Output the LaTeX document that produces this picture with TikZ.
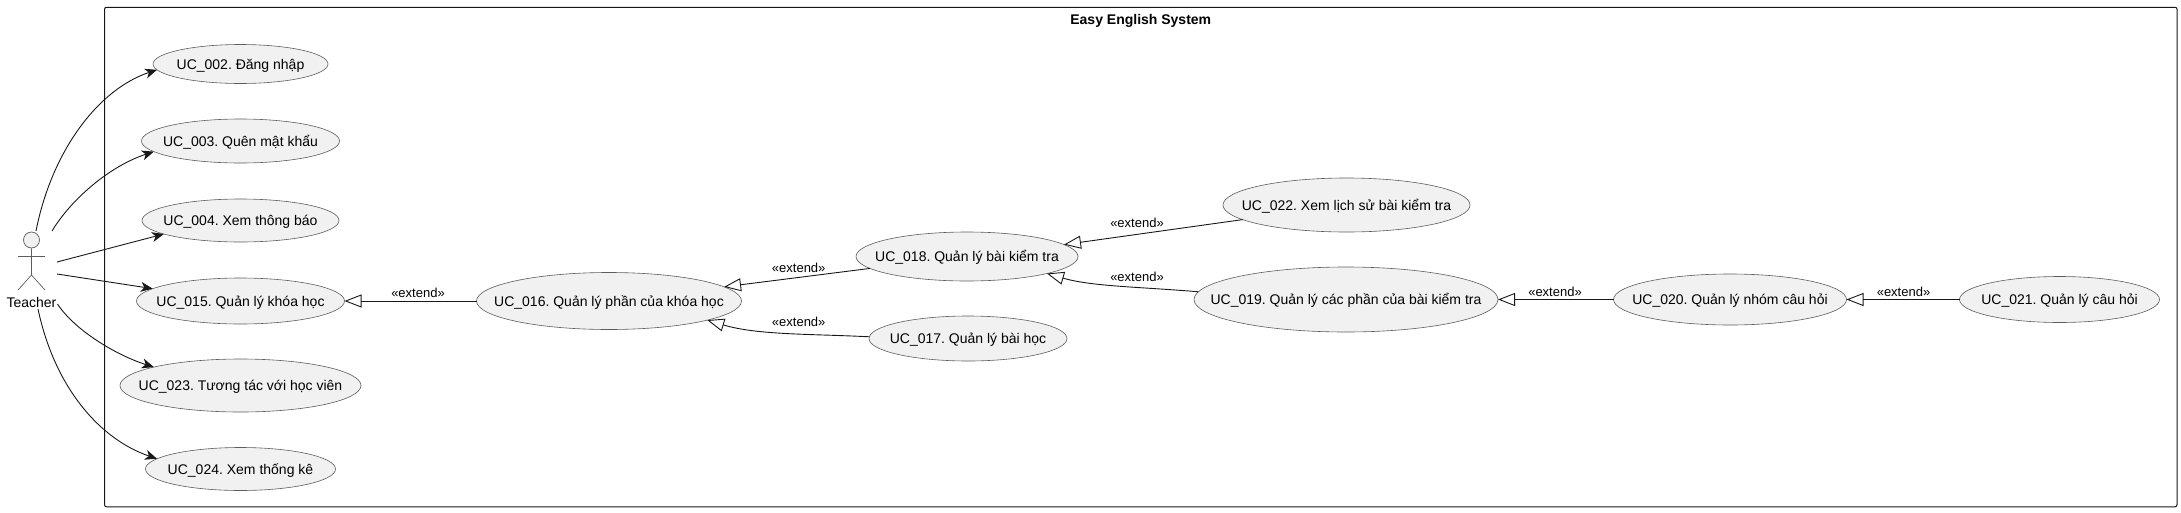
\documentclass[tikz,border=0pt]{standalone}
\usepackage{fontspec}
\setmainfont{Liberation Sans}
\usepackage{xcolor}
\usepackage{tikz}
\usetikzlibrary{positioning, arrows.meta, shapes.geometric}
\definecolor{ucfill}{HTML}{F1F1F1}
\definecolor{ucline}{HTML}{181818}
\newcommand{\uctext}[1]{\makebox[0pt]{\smash{#1}\rule[-3pt]{0pt}{16pt}}}
\frenchspacing

\begin{document}
\begin{tikzpicture}[
    x=1pt, y=-1pt, on grid, font=\fontsize{14}{16}\selectfont,
    usecase/.style={ellipse, draw=ucline!70, fill=ucfill, line width=0.6pt, inner sep=0pt, outer sep=0pt, text=black},
    system/.style={draw=ucline, rounded corners=2pt, line width=1pt, inner sep=0pt, minimum width=2072.5pt, minimum height=499.5pt},
    actorline/.style={draw=ucline!70, line width=0.7pt},
    assoc/.style={-{Stealth[length=12pt, width=10pt, inset=3.5pt]}, draw=ucline, line width=0.9pt},
    extends/.style={-{Triangle[open, length=17pt, width=13pt]}, draw=ucline, line width=0.9pt},
    extlabel/.style={font=\fontsize{13}{15}\selectfont, inner sep=0pt}
]
    \useasboundingbox (0,0) rectangle (2181,512);
    \node[system] (frame) at (1140.75,257) {};
    \node[font=\fontsize{14}{16}\selectfont\bfseries, inner sep=0pt] (title) [below=5pt of frame.north] {\uctext{Easy English System}};

    % left column
    \node[usecase, minimum width=175pt, minimum height=39pt] (uc002) at (240.5,64) {\uctext{UC\_002. Đăng nhập}};
    \node[usecase, minimum width=198pt, minimum height=44pt] (uc003) [below=77pt of uc002] {\uctext{UC\_003. Quên mật khẩu}};
    \node[usecase, minimum width=197pt, minimum height=43pt] (uc004) [below=79.5pt of uc003] {\uctext{UC\_004. Xem thông báo}};
    \node[usecase, minimum width=208pt, minimum height=46pt] (uc015) [below=80.5pt of uc004] {\uctext{UC\_015. Quản lý khóa học}};
    \node[usecase, minimum width=241pt, minimum height=53pt] (uc023) [below=84.5pt of uc015] {\uctext{UC\_023. Tương tác với học viên}};
    \node[usecase, minimum width=190pt, minimum height=43pt] (uc024) [below=83.5pt of uc023] {\uctext{UC\_024. Xem thống kê}};

    % extend chain
    \node[usecase, minimum width=265pt, minimum height=57pt] (uc016) [right=368.5pt of uc015] {\uctext{UC\_016. Quản lý phần của khóa học}};
    \node[usecase, minimum width=222pt, minimum height=49pt] (uc018) [above right=44.5pt and 358pt of uc016] {\uctext{UC\_018. Quản lý bài kiểm tra}};
    \node[usecase, minimum width=198pt, minimum height=45pt] (uc017) [below right=37.5pt and 359pt of uc016] {\uctext{UC\_017. Quản lý bài học}};
    \node[usecase, minimum width=247pt, minimum height=54pt] (uc022) [above right=51.5pt and 379.5pt of uc018] {\uctext{UC\_022. Xem lịch sử bài kiểm tra}};
    \node[usecase, minimum width=304pt, minimum height=65pt] (uc019) [below right=43pt and 379pt of uc018] {\uctext{UC\_019. Quản lý các phần của bài kiểm tra}};
    \node[usecase, minimum width=233pt, minimum height=51pt] (uc020) [right=384pt of uc019] {\uctext{UC\_020. Quản lý nhóm câu hỏi}};
    \node[usecase, minimum width=200pt, minimum height=46pt] (uc021) [right=329.5pt of uc020] {\uctext{UC\_021. Quản lý câu hỏi}};

    % actor
    \node[circle, actorline, fill=ucfill, inner sep=0pt, minimum size=16pt] (head) at (31.5,240) {};
    \coordinate[below=35pt of head] (hip);
    \coordinate[below left=16pt and 13.5pt of head] (armL);
    \coordinate[below right=16pt and 13.5pt of head] (armR);
    \coordinate[below left=15pt and 13.5pt of hip] (legL);
    \coordinate[below right=15pt and 13.5pt of hip] (legR);
    \node[inner sep=0pt] (teacher) [below=62pt of head] {Teacher};
    \draw[actorline] (head) -- (hip) -- (legL);
    \draw[actorline] (hip) -- (legR);
    \draw[actorline] (armL) -- (armR);

    % free ends at the actor
    \coordinate (a1) at (36,231);
    \coordinate (a2) at (52,231);
    \coordinate (a3) at (57,262);
    \coordinate (a4) at (57,274);
    \coordinate (a5) at (57.5,304);
    \coordinate (a6) at (38,309);

    \draw[assoc] (a1) .. controls +(16,-81) and +(-58,19) .. (uc002.184.6);
    \draw[assoc] (a2) .. controls +(20,-33) and +(-43,14) .. (uc003.187.2);
    \draw[assoc] (a3) -- (uc004.190.3);
    \draw[assoc] (a4) -- (uc015.172);
    \draw[assoc] (a5) .. controls +(17,26) and +(-38,-12) .. (uc023.168.7);
    \draw[assoc] (a6) .. controls +(17,80) and +(-56,-19) .. (uc024.173.3);

    \draw[extends] (uc016) -- (uc015);
    \draw[extends] (uc018.187.3) -- (uc016.7);
    \draw[extends] (uc017.179) .. controls +(-60,-3) and +(50,15) .. (uc016.349.5);
    \draw[extends] (uc022.188.1) -- (uc018.7.4);
    \draw[extends] (uc019.177.4) .. controls +(-60,-5) and +(45,13) .. (uc018.348.7);
    \draw[extends] (uc020) -- (uc019);
    \draw[extends] (uc021) -- (uc020);

    \node[extlabel] (ext1) at (418,293) {«extend»};
    \node[extlabel] (ext2) at (798.7,268) {«extend»};
    \node[extlabel] (ext3) at (798.7,322) {«extend»};
    \node[extlabel] (ext4) at (1137,222.7) {«extend»};
    \node[extlabel] (ext5) at (1137,277) {«extend»};
    \node[extlabel] (ext6) at (1555,291.7) {«extend»};
    \node[extlabel] (ext7) at (1903.5,291.7) {«extend»};
\end{tikzpicture}
\end{document}
